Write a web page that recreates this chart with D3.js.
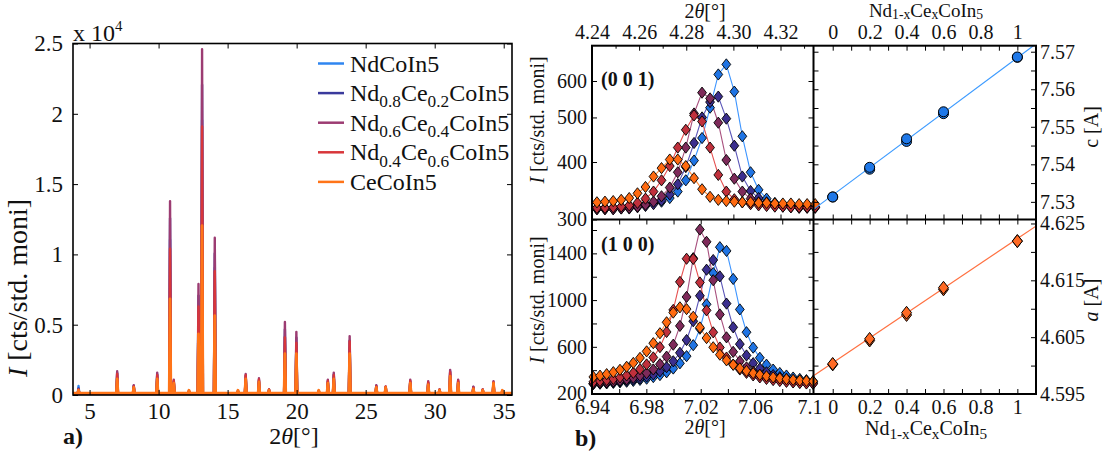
<!DOCTYPE html>
<html>
<head>
<meta charset="utf-8">
<script src="https://cdn.jsdelivr.net/npm/d3@7"></script>
<style>
  body { margin: 0; background: #fff; }
  svg { display: block; }
  text { font-family: "Liberation Serif", "DejaVu Serif", serif; fill: #111; }
</style>
</head>
<body>
<svg id="fig" width="1113" height="457" font-family="Liberation Serif, DejaVu Serif, serif"></svg>
<script>
// ---------------- data ----------------
const seriesNames = ["NdCoIn5", "Nd0.8Ce0.2CoIn5", "Nd0.6Ce0.4CoIn5", "Nd0.4Ce0.6CoIn5", "CeCoIn5"];
const legendParts = [
  [["NdCoIn5"]],
  [["Nd"], ["0.8", "sub"], ["Ce"], ["0.2", "sub"], ["CoIn5"]],
  [["Nd"], ["0.6", "sub"], ["Ce"], ["0.4", "sub"], ["CoIn5"]],
  [["Nd"], ["0.4", "sub"], ["Ce"], ["0.6", "sub"], ["CoIn5"]],
  [["CeCoIn5"]]
];

// (a) full powder pattern: peak positions (2theta, deg) and heights (x10^4 counts)
const peakPos = [4.2, 7.0, 8.2, 9.9, 10.83, 11.1, 12.2, 12.89, 13.15, 14.07, 15.75, 16.31, 17.27, 18.0, 19.15, 19.98,
                 21.6, 22.26, 22.69, 23.84, 25.77, 26.45, 28.23, 29.53, 30.35, 31.12, 31.7, 32.8, 33.48, 34.26, 34.9];
const heightNd    = [0.06,0.12,0.05,0.12,1.10,0.08,0.02,0.60,1.95,0.90,0.02,0.11,0.09,0.02,0.41,0.36,0.02,0.08,0.12,0.33,0.05,0.04,0.08,0.07,0.02,0.14,0.08,0.04,0.02,0.07,0.02];
const heightCe02  = [0.04,0.15,0.06,0.14,1.25,0.09,0.02,0.70,2.20,1.00,0.02,0.13,0.10,0.03,0.46,0.40,0.02,0.09,0.14,0.38,0.06,0.05,0.09,0.08,0.03,0.16,0.09,0.05,0.03,0.08,0.02];
const heightCe04  = [0.03,0.16,0.06,0.15,1.37,0.10,0.02,0.78,2.45,1.11,0.02,0.14,0.11,0.03,0.51,0.44,0.02,0.10,0.15,0.41,0.06,0.05,0.10,0.09,0.03,0.17,0.10,0.05,0.03,0.09,0.02];
const heightCe06  = [0.03,0.14,0.05,0.13,1.03,0.09,0.02,0.62,1.90,0.87,0.02,0.13,0.10,0.03,0.40,0.36,0.02,0.09,0.13,0.37,0.05,0.05,0.09,0.08,0.03,0.15,0.09,0.04,0.03,0.08,0.02];
const heightCe    = [0.02,0.10,0.04,0.10,0.67,0.07,0.02,0.42,1.19,0.55,0.02,0.10,0.08,0.02,0.28,0.28,0.02,0.07,0.10,0.28,0.04,0.04,0.07,0.06,0.02,0.12,0.07,0.03,0.02,0.07,0.02];
const backgroundLevel = [0.004, 0.007, 0.009, 0.010, 0.014];
const patternHeights = [heightNd, heightCe02, heightCe04, heightCe06, heightCe];

// (0 0 1) reflection scan
const theta001 = [4.2421,4.2455,4.2490,4.2524,4.2558,4.2593,4.2627,4.2661,4.2695,4.2730,4.2764,4.2798,4.2833,4.2867,
                  4.2901,4.2936,4.2970,4.3004,4.3038,4.3073,4.3107,4.3141,4.3176,4.3210,4.3244,4.3279,4.3313,4.3347];
const i001Nd   = [318,318,318,319,320,322,324,326,328,334,345,365,403,451,525,620,652,569,455,380,348,333,326,323,322,321,320,320];
const i001Ce02 = [316,316,316,317,317,319,321,324,330,340,358,390,440,500,540,555,497,434,372,346,334,327,323,321,320,319,319,319];
const i001Ce04 = [316,316,316,317,318,320,323,328,337,352,380,430,510,566,550,487,404,368,345,333,327,323,321,320,319,318,318,318];
const i001Ce06 = [318,318,319,320,322,326,333,345,365,392,430,470,505,490,430,375,345,332,327,324,322,321,320,320,319,319,319,319];
const i001Ce   = [327,328,329,331,334,342,353,372,388,405,405,392,369,349,336,331,329,328,327,327,326,326,325,325,325,324,324,324];
const scans001 = [i001Nd, i001Ce02, i001Ce04, i001Ce06, i001Ce];

// (1 0 0) reflection scan
const theta100 = [6.9410,6.9459,6.9508,6.9557,6.9606,6.9655,6.9704,6.9753,6.9802,6.9851,6.9900,6.9949,6.9998,7.0047,7.0096,7.0145,7.0194,
                  7.0243,7.0292,7.0341,7.0390,7.0439,7.0488,7.0537,7.0586,7.0635,7.0684,7.0733,7.0782,7.0831,7.0880,7.0929,7.0978,7.1027];
const i100Nd   = [281,284,287,291,296,301,308,317,327,341,358,382,414,459,520,614,755,964,1231,1453,1421,1181,920,725,593,506,447,405,376,354,337,325,315,306];
const i100Ce02 = [284,288,292,297,303,310,319,330,345,364,390,426,476,549,658,819,1037,1260,1343,1203,970,767,623,526,460,414,382,358,340,327,316,308,301,295];
const i100Ce04 = [288,292,297,304,312,322,335,352,374,406,451,516,618,779,1027,1359,1604,1499,1170,877,681,557,477,424,387,361,342,327,316,307,300,294,290,286];
const i100Ce06 = [300,307,315,325,338,355,377,408,449,509,597,727,916,1156,1354,1352,1151,912,724,594,508,448,406,377,355,338,325,315,307,300,295,290,286,283];
const i100Ce   = [342,353,366,383,403,429,462,505,561,631,716,810,893,938,923,857,766,675,596,533,484,446,416,393,374,360,348,338,330,323,317,312,308,305];
const scans100 = [i100Nd, i100Ce02, i100Ce04, i100Ce06, i100Ce];

// lattice parameters vs Ce content x (two refinements per sample)
const ceContent = [0, 0.2, 0.4, 0.6, 1.0];
const cLatticeA = [7.5313, 7.5387, 7.5461, 7.5535, 7.5685];
const cLatticeB = [7.5313, 7.5392, 7.5468, 7.5540, 7.5686];
const aLatticeA = [4.6002, 4.6044, 4.6089, 4.6134, 4.6219];
const aLatticeB = [4.6003, 4.6047, 4.6093, 4.6137, 4.6219];
const cFit = [7.5318, 0.0366];   // intercept, slope
const aFit = [4.6005, 0.02183];

// tick values
const ticksAx = [5, 10, 15, 20, 25, 30, 35];
const ticksAy = [0, 0.5, 1, 1.5, 2, 2.5];
const ticks001x = [4.24, 4.26, 4.28, 4.30, 4.32];
const ticks001xMinor = [4.25, 4.27, 4.29, 4.31, 4.33];
const ticks001y = [300, 400, 500, 600];
const ticks100x = [6.94, 6.98, 7.02, 7.06, 7.1];
const ticks100xMinor = [6.96, 7.00, 7.04, 7.08];
const ticks100y = [200, 600, 1000, 1400];
const ticks100yMinor = [400, 800, 1200, 1600];
const ticksComp = [0, 0.2, 0.4, 0.6, 0.8, 1];
const ticksCompMinor = [0.1, 0.3, 0.5, 0.7, 0.9];
const ticksC = [7.53, 7.54, 7.55, 7.56, 7.57];
const ticksCMinor = [7.535, 7.545, 7.555, 7.565];
const ticksA = [4.595, 4.605, 4.615, 4.625];
const ticksAMinor = [4.600, 4.610, 4.620];

// ---------------- styles ----------------
const lineColors   = ["#2f86f0", "#3a3a9c", "#9c3c72", "#d8363a", "#ff7418"];
const scanLineColors = ["#3d95ff", "#5a55b8", "#a8507e", "#e65050", "#ff8a3a"];
const markerColors = ["#1f74e4", "#3b2f8e", "#7e2a5a", "#c0303c", "#ff6a10"];

const svg = d3.select("#fig");

function styleAxis(g, size) {
  g.attr("font-family", null).attr("font-size", null);
  g.select(".domain").remove();
  g.selectAll(".tick line").attr("stroke", "#000").attr("stroke-width", 1);
  g.selectAll(".tick text").attr("fill", "#111").style("font-size", size + "px");
  return g;
}
function addAxis(gen, tx, ty, size) {
  const g = svg.append("g").attr("transform", `translate(${tx},${ty})`).call(gen);
  return styleAxis(g, size || 20);
}
function richText(sel, parts, size, subScale, subDrop) {
  let shift = 0;
  const sc = subScale || 0.75;
  const drop = subDrop || 0.26;
  parts.forEach(p => {
    const t = sel.append("tspan").text(p[0]);
    let target = 0;
    if (p[1] === "sub") { t.attr("font-size", size * sc); target = size * drop; }
    if (p[1] === "sup") { t.attr("font-size", size * 0.62); target = -size * 0.42; }
    if (p[1] === "it") t.attr("font-style", "italic");
    if (target !== shift) { t.attr("dy", target - shift); shift = target; }
  });
  return sel;
}
function label(x, y, parts, size, anchor, rotate, weight, subScale, subDrop) {
  const t = svg.append("text")
    .attr("transform", `translate(${x},${y})` + (rotate ? ` rotate(${rotate})` : ""))
    .attr("text-anchor", anchor || "middle")
    .style("font-size", size + "px");
  if (weight) t.style("font-weight", weight);
  return richText(t, parts, size, subScale, subDrop);
}
function clip(id, x, y, w, h) {
  svg.append("clipPath").attr("id", id).append("rect")
    .attr("x", x).attr("y", y).attr("width", w).attr("height", h);
  return `url(#${id})`;
}

// ---------------- panel (a) ----------------
const PA = { x0: 73, x1: 512, y0: 43.5, y1: 395 };
const xA = d3.scaleLinear().domain([3.8, 35.6]).range([PA.x0, PA.x1]);
const yA = d3.scaleLinear().domain([0, 2.5]).range([PA.y1, PA.y0]);
const clipA = clip("clipA", PA.x0, PA.y0, PA.x1 - PA.x0, PA.y1 - PA.y0);

const patternLine = d3.line().x(d => xA(d[0])).y(d => yA(d[1]));
patternHeights.forEach((h, s) => {
  const base = backgroundLevel[s];
  const pts = [[xA.domain()[0], base]];
  peakPos.forEach((p, i) => {
    pts.push([p - 0.06, base], [p, base + h[i]], [p + 0.06, base]);
  });
  pts.push([xA.domain()[1], base]);
  svg.append("path").attr("d", patternLine(pts))
    .attr("fill", "none").attr("stroke", lineColors[s])
    .attr("stroke-width", s === 4 ? 2.8 : 2.4).attr("stroke-linejoin", "round")
    .attr("clip-path", clipA);
});

svg.append("rect").attr("x", PA.x0).attr("y", PA.y0)
  .attr("width", PA.x1 - PA.x0).attr("height", PA.y1 - PA.y0)
  .attr("fill", "none").attr("stroke", "#000").attr("stroke-width", 1.6);

addAxis(d3.axisBottom(xA).tickValues(ticksAx).tickSize(-5).tickPadding(8), 0, PA.y1, 23);
addAxis(d3.axisTop(xA).tickValues(ticksAx).tickSize(-5).tickFormat(""), 0, PA.y0);
addAxis(d3.axisLeft(yA).tickValues(ticksAy).tickSize(-5).tickPadding(10).tickFormat(d => String(d)), PA.x0, 0, 23);
addAxis(d3.axisRight(yA).tickValues(ticksAy).tickSize(-5).tickFormat(""), PA.x1, 0);

label(PA.x0, 41, [["x 10"], ["4", "sup"]], 24, "start");
label(294, 444, [["2"], ["θ", "it"], ["[°]"]], 24);
label(63, 444, [["a)"]], 24, "start", 0, "bold");
label(27, 288, [["I", "it"], [" [cts/std. moni]"]], 28, "middle", -90);

// legend
const legY0 = 63.5, legDy = 29.6;
seriesNames.forEach((name, s) => {
  const y = legY0 + s * legDy;
  svg.append("line").attr("x1", 318).attr("x2", 344).attr("y1", y).attr("y2", y)
    .attr("stroke", lineColors[s]).attr("stroke-width", 2.5);
  label(350, y + 8, legendParts[s], 24, "start", 0, null, 0.72);
});

// ---------------- panel (b), middle: reflection scans ----------------
const PM = { x0: 592, x1: 813.5, yTop: 45.7, yMid: 219.5, yBot: 394 };
const x001 = d3.scaleLinear().domain([4.24, 4.334]).range([PM.x0, PM.x1]);
const y001 = d3.scaleLog().domain([300, 716]).range([PM.yMid, PM.yTop]);
const x100 = d3.scaleLinear().domain([6.94, 7.103]).range([PM.x0, PM.x1]);
const y100 = d3.scaleLinear().domain([196, 1690]).range([PM.yBot, PM.yMid]);

const diamond = "M0,-5.6L4.4,0L0,5.6L-4.4,0Z";

function drawScans(xs, sets, xScale, yScale) {
  const line = d3.line().x((d, i) => xScale(xs[i])).y(d => yScale(d));
  sets.forEach((vals, s) => {
    svg.append("path").attr("d", line(vals)).attr("fill", "none")
      .attr("stroke", scanLineColors[s]).attr("stroke-width", 1.1);
  });
  sets.forEach((vals, s) => {
    svg.append("g").selectAll("path").data(vals).join("path")
      .attr("d", diamond)
      .attr("transform", (d, i) => `translate(${xScale(xs[i])},${yScale(d)})`)
      .attr("fill", markerColors[s]).attr("stroke", "#000").attr("stroke-width", 0.9);
  });
}
drawScans(theta001, scans001, x001, y001);
drawScans(theta100, scans100, x100, y100);

// ---------------- panel (b), right: lattice parameters ----------------
const PR = { x0: 813.5, x1: 1036 };
const xR = d3.scaleLinear().domain([-0.104, 1.101]).range([PR.x0, PR.x1]);
const yC = d3.scaleLinear().domain([7.5253, 7.5716]).range([PM.yMid, PM.yTop]);
const yAa = d3.scaleLinear().domain([4.595, 4.6257]).range([PM.yBot, PM.yMid]);
const clipC = clip("clipC", PR.x0, PM.yTop, PR.x1 - PR.x0, PM.yMid - PM.yTop);
const clipAa = clip("clipAa", PR.x0, PM.yMid, PR.x1 - PR.x0, PM.yBot - PM.yMid);

const fitLine = (fit, yScale) => d3.line().x(d => xR(d)).y(d => yScale(fit[0] + fit[1] * d))(xR.domain());
svg.append("path").attr("d", fitLine(cFit, yC)).attr("stroke", "#3d9bff").attr("stroke-width", 1.2)
  .attr("fill", "none").attr("clip-path", clipC);
svg.append("path").attr("d", fitLine(aFit, yAa)).attr("stroke", "#ff7040").attr("stroke-width", 1.2)
  .attr("fill", "none").attr("clip-path", clipAa);

[cLatticeA, cLatticeB].forEach(vals => {
  svg.append("g").selectAll("circle").data(vals).join("circle")
    .attr("cx", (d, i) => xR(ceContent[i])).attr("cy", d => yC(d)).attr("r", 5)
    .attr("fill", "#1f78e8").attr("stroke", "#000").attr("stroke-width", 1);
});
const bigDiamond = "M0,-6.4L5,0L0,6.4L-5,0Z";
[aLatticeA, aLatticeB].forEach(vals => {
  svg.append("g").selectAll("path").data(vals).join("path")
    .attr("d", bigDiamond)
    .attr("transform", (d, i) => `translate(${xR(ceContent[i])},${yAa(d)})`)
    .attr("fill", "#ff6a24").attr("stroke", "#000").attr("stroke-width", 1);
});

// frames
svg.append("rect").attr("x", PM.x0).attr("y", PM.yTop).attr("width", PR.x1 - PM.x0).attr("height", PM.yBot - PM.yTop)
  .attr("fill", "none").attr("stroke", "#000").attr("stroke-width", 2);
svg.append("line").attr("x1", PM.x0).attr("x2", PR.x1).attr("y1", PM.yMid).attr("y2", PM.yMid)
  .attr("stroke", "#000").attr("stroke-width", 2);
svg.append("line").attr("x1", PR.x0).attr("x2", PR.x0).attr("y1", PM.yTop).attr("y2", PM.yBot)
  .attr("stroke", "#000").attr("stroke-width", 2);

// middle axes
const fmt2 = d3.format(".2f");
addAxis(d3.axisTop(x001).tickValues(ticks001x).tickSize(-5).tickPadding(7).tickFormat(fmt2), 0, PM.yTop, 20);
addAxis(d3.axisTop(x001).tickValues(ticks001xMinor).tickSize(-3).tickFormat(""), 0, PM.yTop);
addAxis(d3.axisBottom(x001).tickValues(ticks001x).tickSize(-5).tickFormat(""), 0, PM.yMid);
addAxis(d3.axisLeft(y001).tickValues(ticks001y).tickSize(-5).tickPadding(5).tickFormat(d3.format("d")), PM.x0, 0, 20);
addAxis(d3.axisRight(y001).tickValues(ticks001y).tickSize(-5).tickFormat(""), PM.x1, 0);

addAxis(d3.axisBottom(x100).tickValues(ticks100x).tickSize(-5).tickPadding(6)
  .tickFormat(d => d === 7.1 ? "7.1" : fmt2(d)), 0, PM.yBot, 20);
addAxis(d3.axisBottom(x100).tickValues(ticks100xMinor).tickSize(-5).tickFormat(""), 0, PM.yBot);
addAxis(d3.axisTop(x100).tickValues(ticks100x.concat(ticks100xMinor)).tickSize(-5).tickFormat(""), 0, PM.yMid);
addAxis(d3.axisLeft(y100).tickValues(ticks100y).tickSize(-5).tickPadding(5).tickFormat(d3.format("d")), PM.x0, 0, 20);
addAxis(d3.axisLeft(y100).tickValues(ticks100yMinor).tickSize(-5).tickFormat(""), PM.x0, 0);
addAxis(d3.axisRight(y100).tickValues(ticks100y.concat(ticks100yMinor)).tickSize(-5).tickFormat(""), PM.x1, 0);

// right axes
const fmtComp = d => (d === 0 || d === 1) ? String(d) : d3.format(".1f")(d);
addAxis(d3.axisTop(xR).tickValues(ticksComp).tickSize(-5).tickPadding(7).tickFormat(fmtComp), 0, PM.yTop, 20);
addAxis(d3.axisTop(xR).tickValues(ticksCompMinor).tickSize(-5).tickFormat(""), 0, PM.yTop);
addAxis(d3.axisBottom(xR).tickValues(ticksComp.concat(ticksCompMinor)).tickSize(-5).tickFormat(""), 0, PM.yMid);
addAxis(d3.axisTop(xR).tickValues(ticksComp.concat(ticksCompMinor)).tickSize(-5).tickFormat(""), 0, PM.yMid);
addAxis(d3.axisBottom(xR).tickValues(ticksComp).tickSize(-5).tickPadding(6).tickFormat(fmtComp), 0, PM.yBot, 20);
addAxis(d3.axisBottom(xR).tickValues(ticksCompMinor).tickSize(-5).tickFormat(""), 0, PM.yBot);

addAxis(d3.axisRight(yC).tickValues(ticksC).tickSize(-5).tickPadding(4).tickFormat(fmt2), PR.x1, 0, 20);
addAxis(d3.axisRight(yC).tickValues(ticksCMinor).tickSize(-5).tickFormat(""), PR.x1, 0);
addAxis(d3.axisLeft(yC).tickValues(ticksC.concat(ticksCMinor)).tickSize(-5).tickFormat(""), PR.x0, 0);
addAxis(d3.axisRight(yAa).tickValues(ticksA).tickSize(-5).tickPadding(4).tickFormat(d3.format(".3f")), PR.x1, 0, 20);
addAxis(d3.axisRight(yAa).tickValues(ticksAMinor).tickSize(-5).tickFormat(""), PR.x1, 0);
addAxis(d3.axisLeft(yAa).tickValues(ticksA.concat(ticksAMinor)).tickSize(-5).tickFormat(""), PR.x0, 0);

// labels for panel (b)
label(705, 18, [["2"], ["θ", "it"], ["[°]"]], 20);
label(705, 434, [["2"], ["θ", "it"], ["[°]"]], 20);
label(575, 446, [["b)"]], 24, "start", 0, "bold");
label(601, 86, [["(0 0 1)"]], 20, "start", 0, "bold");
label(601, 251, [["(1 0 0)"]], 20, "start", 0, "bold");
label(544, 120, [["I", "it"], [" [cts/std. moni]"]], 20, "middle", -90);
label(544, 300, [["I", "it"], [" [cts/std. moni]"]], 20, "middle", -90);
const compParts = [["Nd"], ["1-x", "sub"], ["Ce"], ["x", "sub"], ["CoIn"], ["5", "sub"]];
label(926, 17, compParts, 19, "middle", 0, null, 0.72, 0.1);
label(926, 435, compParts, 20, "middle", 0, null, 0.76, 0.2);
label(1098, 127, [["c [A]"]], 20, "middle", -90);
label(1098, 300, [["a", "it"], [" [A]"]], 20, "middle", -90);
</script>
</body>
</html>
